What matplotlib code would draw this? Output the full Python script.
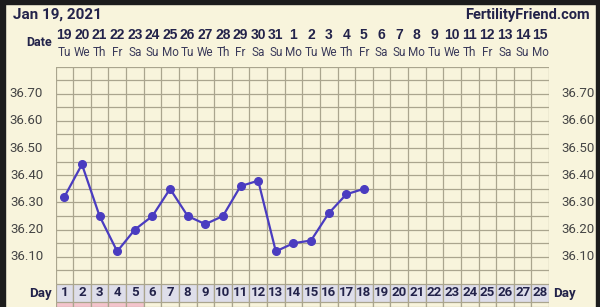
import numpy as np
import matplotlib
matplotlib.use("Agg")
import matplotlib.pyplot as plt
from matplotlib.patches import Rectangle
from matplotlib.transforms import blended_transform_factory

# ── 데이터 ────────────────────────────────────────────────────────────────────
days = list(range(1, 29))
dates = [19, 20, 21, 22, 23, 24, 25, 26, 27, 28, 29, 30, 31,
         1, 2, 3, 4, 5, 6, 7, 8, 9, 10, 11, 12, 13, 14, 15]
weekdays = ["Tu", "We", "Th", "Fr", "Sa", "Su", "Mo"] * 4
temp_days = list(range(1, 19))
temps = [36.32, 36.44, 36.25, 36.12, 36.20, 36.25, 36.35, 36.25, 36.22,
         36.25, 36.36, 36.38, 36.12, 36.15, 36.16, 36.26, 36.33, 36.35]
ytick_vals = [36.10, 36.20, 36.30, 36.40, 36.50, 36.60, 36.70]
pink_days = [1, 2, 3, 4, 5]

BG = "#f8f4dc"
GRID = "#aaa58e"
LINE = "#4a3cc0"
NAVY = "#23234a"

W, H = 600, 307
fig = plt.figure(figsize=(W / 100, H / 100), dpi=100, facecolor=BG)

# 어두운 테두리
for x, y, w, h in [(0, 0, 5 / W, 1), (596 / W, 0, 4 / W, 1), (0, 1 - 4 / H, 1, 4 / H)]:
    fig.patches.append(Rectangle((x, y), w, h, transform=fig.transFigure,
                                 color="#1c1c1c", zorder=0))

L, R = 55.5, 549
ax = fig.add_axes([L / W, 1 - 284 / H, (R - L) / W, (284 - 66.5) / H])
ax.set_facecolor(BG)
ax.set_xlim(0.5, 28.5)
ax.set_ylim(36.00, 36.80)
for xv in np.arange(0.5, 29, 1):
    ax.axvline(xv, color=GRID, lw=0.9, zorder=1)
for yv in np.arange(36.0, 36.81, 0.05):
    ax.axhline(yv, color=GRID, lw=0.9, zorder=1)
for s in ax.spines.values():
    s.set_visible(False)
ax.set_xticks([])
ax.set_yticks([])

ax.plot(temp_days, temps, color=LINE, lw=1.6, marker="o", ms=5.5, zorder=3)

for yv in ytick_vals:
    ax.text(-0.2, yv, f"{yv:.2f}", ha="right", va="center", fontsize=9.5,
            color="#444444", family="Roboto")
    ax.text(29.2, yv, f"{yv:.2f}", ha="left", va="center", fontsize=9.5,
            color="#444444", family="Roboto")

# 상단 날짜/요일
tr = blended_transform_factory(ax.transData, fig.transFigure)
for d, dt, wd in zip(days, dates, weekdays):
    ax.text(d, 1 - 35 / H, str(dt), transform=tr, ha="center", va="center",
            fontsize=10, fontweight="bold", color=NAVY, family="Liberation Sans")
    ax.text(d, 1 - 53 / H, wd, transform=tr, ha="center", va="center",
            fontsize=8.5, color="#3a3a5a", family="Roboto")
fig.text(39 / W, 1 - 42 / H, "Date", ha="center", va="center", fontsize=9,
         fontweight="bold", color=NAVY, family="Roboto")
fig.text(13 / W, 1 - 15 / H, "Jan 19, 2021", ha="left", va="center", fontsize=11,
         fontweight="bold", color=NAVY, family="Roboto")
fig.text(590 / W, 1 - 15 / H, "FertilityFriend.com", ha="right", va="center",
         fontsize=10.5, fontweight="bold", color=NAVY, family="Roboto")

# Day 행
axd = fig.add_axes([L / W, 1 - 302 / H, (R - L) / W, 18 / H])
axd.set_xlim(0.5, 28.5)
axd.set_ylim(0, 1)
axd.axis("off")
axd.bar(days, [1] * 28, width=1, bottom=0, color="#dedeea", edgecolor=GRID, lw=0.9)
for d in days:
    axd.text(d, 0.5, str(d), ha="center", va="center", fontsize=9.5,
             fontweight="bold", color=NAVY, family="Roboto")
fig.text(40 / W, 1 - 293 / H, "Day", ha="center", va="center", fontsize=9.5,
         fontweight="bold", color=NAVY, family="Roboto")
fig.text(553 / W, 1 - 293 / H, "Day", ha="left", va="center", fontsize=9.5,
         fontweight="bold", color=NAVY, family="Roboto")

# 하단 (잘린) 행
axp = fig.add_axes([L / W, 0, (R - L) / W, 5 / H])
axp.set_xlim(0.5, 28.5)
axp.set_ylim(0, 1)
axp.axis("off")
cols = ["#f4c4cc" if d in pink_days else BG for d in days]
axp.bar(days, [1] * 28, width=1, color=cols, edgecolor=GRID, lw=0.9)

fig.savefig("out.png", dpi=100, facecolor=BG)
